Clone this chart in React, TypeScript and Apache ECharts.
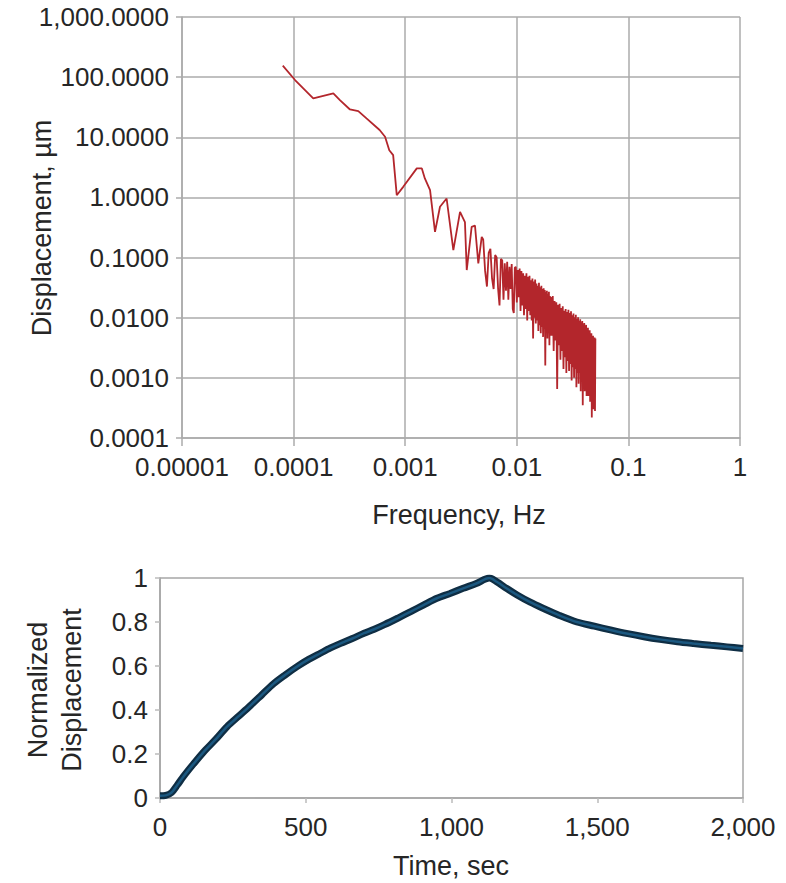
import React, { useEffect, useRef } from "react";
import * as echarts from "echarts";

// ---- Spectrum (top chart) ----
const lowFreq = [
  0.00008, 0.000103, 0.00015, 0.000227, 0.00026, 0.00032, 0.00038, 0.00045, 0.00059, 0.00066,
  0.00072, 0.00078, 0.00084, 0.00096, 0.00127, 0.00141, 0.0015, 0.00167, 0.00185, 0.00205,
  0.00235, 0.0027, 0.0031, 0.00343, 0.00356, 0.00394, 0.00422, 0.00452, 0.00485,
];
const lowVal = [
  155, 89.5, 44.4, 53.7, 41.6, 29, 27.3, 20.6, 13.2, 10.2,
  6.1, 5.06, 1.09, 1.5, 3.04, 3.04, 2.07, 1.32, 0.268, 0.7,
  0.96, 0.133, 0.575, 0.39, 0.062, 0.324, 0.34, 0.08, 0.22,
];
const midFreq = [
  0.005, 0.0052, 0.0054, 0.0056, 0.0058, 0.006, 0.0062, 0.0064, 0.0066, 0.0068,
  0.007, 0.0072, 0.0074, 0.0076, 0.0078, 0.008, 0.0082, 0.0084, 0.0086, 0.0088,
  0.009, 0.0092, 0.0094, 0.0096, 0.0098, 0.01, 0.0102, 0.0104, 0.0106, 0.0108,
  0.011, 0.0112, 0.0114, 0.0116, 0.0118, 0.012, 0.0122, 0.0124, 0.0126, 0.0128,
  0.013, 0.0132, 0.0134, 0.0136, 0.0138, 0.014, 0.0142, 0.0144, 0.0146, 0.0148,
  0.015, 0.0152, 0.0154, 0.0156, 0.0158, 0.016, 0.0162, 0.0164, 0.0166, 0.0168,
  0.017, 0.0172, 0.0174, 0.0176, 0.0178, 0.018, 0.0182, 0.0184, 0.0186, 0.0188,
  0.019, 0.0192, 0.0194, 0.0196, 0.0198, 0.02,
];
const midVal = [
  0.2, 0.06, 0.033, 0.12, 0.14, 0.045, 0.03, 0.11, 0.1, 0.03,
  0.016, 0.095, 0.09, 0.02, 0.08, 0.028, 0.085, 0.02, 0.07, 0.03,
  0.078, 0.014, 0.012, 0.068, 0.07, 0.018, 0.062, 0.022, 0.066, 0.013,
  0.06, 0.016, 0.055, 0.011, 0.05, 0.014, 0.055, 0.009, 0.048, 0.013,
  0.05, 0.011, 0.042, 0.009, 0.045, 0.0045, 0.04, 0.01, 0.043, 0.008,
  0.037, 0.009, 0.034, 0.006, 0.038, 0.0075, 0.032, 0.0055, 0.034, 0.007,
  0.03, 0.0048, 0.031, 0.0065, 0.029, 0.0016, 0.027, 0.006, 0.028, 0.0045,
  0.025, 0.0055, 0.027, 0.0035, 0.023, 0.005,
];
const highFreq = [
  0.0202, 0.0206, 0.021, 0.0214, 0.0218, 0.0222, 0.0226, 0.023, 0.0234, 0.0238,
  0.0242, 0.0246, 0.025, 0.0254, 0.0258, 0.0262, 0.0266, 0.027, 0.0274, 0.0278,
  0.0282, 0.0286, 0.029, 0.0294, 0.0298, 0.0302, 0.0306, 0.031, 0.0314, 0.0318,
  0.0322, 0.0326, 0.033, 0.0334, 0.0338, 0.0342, 0.0346, 0.035, 0.0354, 0.0358,
  0.0362, 0.0366, 0.037, 0.0374, 0.0378, 0.0382, 0.0386, 0.039, 0.0394, 0.0398,
  0.0402, 0.0406, 0.041, 0.0414, 0.0418, 0.0422, 0.0426, 0.043, 0.0434, 0.0438,
  0.0442, 0.0446, 0.045, 0.0454, 0.0458, 0.0462, 0.0466, 0.047, 0.0474, 0.0478,
  0.0482, 0.0486, 0.049, 0.0494, 0.0498, 0.0502, 0.0506,
];
const highVal = [
  0.022, 0.005, 0.023, 0.0028, 0.019, 0.0042, 0.018, 0.00065, 0.0165, 0.0035,
  0.017, 0.002, 0.0145, 0.0028, 0.0155, 0.0014, 0.013, 0.0022, 0.014, 0.0012,
  0.0125, 0.0019, 0.0135, 0.0013, 0.012, 0.0017, 0.0128, 0.0009, 0.011, 0.0015,
  0.0118, 0.001, 0.0102, 0.0014, 0.0112, 0.0007, 0.0095, 0.0012, 0.0102, 0.0008,
  0.0088, 0.0012, 0.0094, 0.0006, 0.0084, 0.0011, 0.0088, 0.00035, 0.0078, 0.001,
  0.0082, 0.0006, 0.0072, 0.0009, 0.0076, 0.0005, 0.0066, 0.0008, 0.0068, 0.0005,
  0.006, 0.0007, 0.0062, 0.0004, 0.0054, 0.0006, 0.0055, 0.00022, 0.0049, 0.0005,
  0.005, 0.0003, 0.0046, 0.00045, 0.0047, 0.00028, 0.0045,
];
const freqTickLabels = ["0.00001", "0.0001", "0.001", "0.01", "0.1", "1"]; // 1e-5 .. 1
const dispTickLabels = [
  "0.0001", "0.0010", "0.0100", "0.1000", "1.0000", "10.0000", "100.0000", "1,000.0000",
]; // 1e-4 .. 1e3

// ---- Normalized displacement vs time (bottom chart) ----
const timeSec = [
  0, 20, 40, 60, 80, 115, 150, 190, 230, 270, 310, 350, 390, 430, 470, 510, 550, 585, 620, 660,
  700, 735, 770, 815, 860, 905, 950, 995, 1040, 1085, 1130, 1155, 1190, 1225, 1270, 1315, 1370,
  1430, 1490, 1545, 1600, 1660, 1715, 1775, 1830, 1890, 1945, 2000,
];
const normDisp = [
  0.01, 0.012, 0.025, 0.06, 0.097, 0.155, 0.21, 0.265, 0.324, 0.372, 0.42, 0.47, 0.52, 0.56,
  0.597, 0.63, 0.658, 0.682, 0.703, 0.725, 0.749, 0.767, 0.788, 0.817, 0.847, 0.878, 0.908, 0.93,
  0.953, 0.975, 1.0, 0.983, 0.952, 0.923, 0.89, 0.862, 0.83, 0.8, 0.781, 0.764, 0.748, 0.733,
  0.721, 0.71, 0.702, 0.694, 0.687, 0.68,
];
const timeTickLabels = ["0", "500", "1,000", "1,500", "2,000"];
const normTickLabels = ["0", "0.2", "0.4", "0.6", "0.8", "1"];

const FONT = '"Liberation Sans", Arial, Helvetica, sans-serif';
const TXT = "#262626";
const GRID = "#ababab";

export default function App() {
  const ref = useRef<HTMLDivElement>(null);
  useEffect(() => {
    document.body.style.margin = "0";
    const chart = echarts.init(ref.current as HTMLDivElement, null, { renderer: "svg" });
    const allFreq = [...lowFreq, ...midFreq, ...highFreq];
    const allVal = [...lowVal, ...midVal, ...highVal];
    const spectrum = allFreq.map((f, i) => [f, allVal[i]]);
    const curve = timeSec.map((t, i) => [t, normDisp[i]]);

    const option: any = {
      animation: false,
      textStyle: { fontFamily: FONT },
      grid: [
        { left: 182, top: 17, width: 558, height: 421 },
        {
          left: 160, top: 578, width: 583, height: 220, show: true,
          borderColor: "#a6a6a6", borderWidth: 1.5, backgroundColor: "transparent",
        },
      ],
      xAxis: [
        {
          type: "log", gridIndex: 0, min: 0.00001, max: 1, logBase: 10,
          axisLine: { show: true, lineStyle: { color: GRID, width: 1.5 } },
          axisTick: { show: true, length: 8, lineStyle: { color: GRID, width: 1.5 } },
          splitLine: { show: true, lineStyle: { color: GRID, width: 1.5 } },
          minorTick: { show: false }, minorSplitLine: { show: false },
          axisLabel: {
            fontSize: 26, color: TXT, fontFamily: FONT, margin: 16,
            formatter: (v: number) => freqTickLabels[Math.round(Math.log10(v)) + 5] ?? "",
          },
        },
        {
          type: "value", gridIndex: 1, min: 0, max: 2000, interval: 500,
          axisLine: { show: true, lineStyle: { color: "#a6a6a6", width: 1.5 } },
          axisTick: { show: true, length: 5, lineStyle: { color: "#bbb", width: 1.5 } },
          splitLine: { show: false },
          axisLabel: {
            fontSize: 26, color: TXT, fontFamily: FONT, margin: 16,
            formatter: (v: number) => timeTickLabels[Math.round(v / 500)] ?? "",
          },
        },
      ],
      yAxis: [
        {
          type: "log", gridIndex: 0, min: 0.0001, max: 1000, logBase: 10,
          axisLine: { show: true, lineStyle: { color: GRID, width: 1.5 } },
          axisTick: { show: true, length: 6, lineStyle: { color: GRID, width: 1.5 } },
          splitLine: { show: true, lineStyle: { color: GRID, width: 1.5 } },
          minorTick: { show: false }, minorSplitLine: { show: false },
          axisLabel: {
            fontSize: 26, color: TXT, fontFamily: FONT, margin: 13,
            formatter: (v: number) => dispTickLabels[Math.round(Math.log10(v)) + 4] ?? "",
          },
        },
        {
          type: "value", gridIndex: 1, min: 0, max: 1, interval: 0.2,
          axisLine: { show: true, lineStyle: { color: "#a6a6a6", width: 1.5 } },
          axisTick: { show: true, length: 5, lineStyle: { color: "#bbb", width: 1.5 } },
          splitLine: { show: false },
          axisLabel: {
            fontSize: 26, color: TXT, fontFamily: FONT, margin: 12,
            formatter: (v: number) => normTickLabels[Math.round(v / 0.2)] ?? "",
          },
        },
      ],
      series: [
        {
          type: "line", xAxisIndex: 0, yAxisIndex: 0, data: spectrum,
          showSymbol: false, symbol: "none",
          lineStyle: { color: "#b3262c", width: 1.8 },
        },
        {
          type: "line", xAxisIndex: 1, yAxisIndex: 1, data: curve,
          showSymbol: false, symbol: "none", smooth: 0.3,
          lineStyle: { color: "#0f2e44", width: 7 },
        },
        {
          type: "line", xAxisIndex: 1, yAxisIndex: 1, data: curve,
          showSymbol: false, symbol: "none", smooth: 0.3,
          lineStyle: { color: "#1b5880", width: 2.5 },
        },
      ],
      graphic: [
        {
          type: "text", x: 42, y: 228, rotation: Math.PI / 2,
          style: {
            text: "Displacement, µm", fontSize: 27, fontFamily: FONT, fill: TXT,
            textAlign: "center", textVerticalAlign: "middle",
          },
        },
        {
          type: "text", x: 459, y: 515,
          style: {
            text: "Frequency, Hz", fontSize: 27, fontFamily: FONT, fill: TXT,
            textAlign: "center", textVerticalAlign: "middle",
          },
        },
        {
          type: "text", x: 55, y: 690, rotation: Math.PI / 2,
          style: {
            text: "Normalized\nDisplacement", fontSize: 27, lineHeight: 34, fontFamily: FONT, fill: TXT,
            textAlign: "center", textVerticalAlign: "middle",
          },
        },
        {
          type: "text", x: 451, y: 866,
          style: {
            text: "Time, sec", fontSize: 27, fontFamily: FONT, fill: TXT,
            textAlign: "center", textVerticalAlign: "middle",
          },
        },
      ],
    };
    chart.setOption(option);
    return () => chart.dispose();
  }, []);
  return <div ref={ref} style={{ width: 786, height: 883 }} />;
}
